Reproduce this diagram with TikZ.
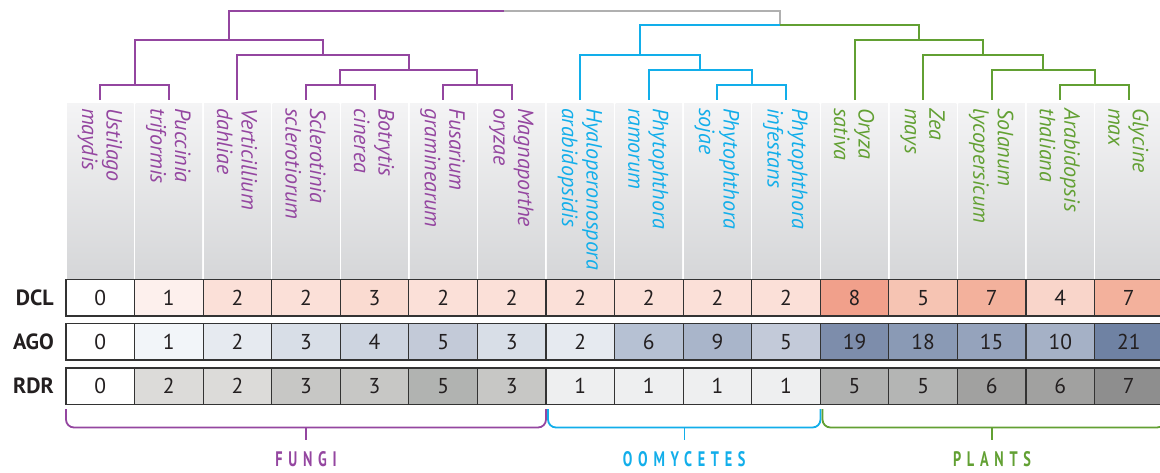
\documentclass[tikz,border=0pt]{standalone}
\usepackage{fontspec}
\usepackage{graphicx}
\setmainfont{PT Sans}
\newfontfamily\grpfont[LetterSpace=40]{PT Sans}
\definecolor{fungi}{HTML}{9446A0}
\definecolor{oomy}{HTML}{12AEEA}
\definecolor{plant}{HTML}{62A033}
\definecolor{rootgray}{HTML}{B0B0B0}
\definecolor{ink}{HTML}{231F20}
\definecolor{cellline}{HTML}{333333}
\definecolor{hdtop}{HTML}{F4F4F5}
\definecolor{hdbot}{HTML}{D5D6D8}
\tikzset{
  branch/.style={line width=2pt},
  leaflabel/.style={rotate=-90, anchor=west, align=left, inner sep=0pt,
    font=\fontsize{22}{24.5}\selectfont\itshape},
  cell/.style={draw=cellline, line width=1.2pt, inner sep=0pt,
    minimum width=68.57pt, minimum height=36.5pt, text=ink,
    font=\fontsize{21.5}{21.5}\selectfont},
  rowlabel/.style={anchor=east, inner sep=0pt, text=ink,
    font=\fontsize{22}{22}\selectfont\bfseries},
  bracket/.style={line width=1.8pt, rounded corners=8pt},
  grplabel/.style={inner sep=0pt, font=\fontsize{21}{21}\selectfont\grpfont\bfseries}
}
\begin{document}
\begin{tikzpicture}[x=1pt,y=-1pt]
\useasboundingbox (0,0) rectangle (1160,472);
% header columns
\foreach \i in {0,...,15}{
  \pgfmathsetmacro{\xa}{66+68.57*\i+1}
  \pgfmathsetmacro{\xb}{66+68.57*(\i+1)-1}
  \shade[top color=hdtop, bottom color=hdbot] (\xa,103) rectangle (\xb,279);
}
% leaves and labels
\foreach \g/\s/\col [count=\i from 0] in {
  Ustilago/maydis/fungi, Puccinia/triformis/fungi, Verticillium/dahliae/fungi,
  Sclerotinia/sclerotiorum/fungi, Botrytis/cinerea/fungi, Fusarium/graminearum/fungi,
  Magnaporthe/oryzae/fungi, Hyaloperonospora/arabidopsidis/oomy,
  Phytophthora/ramorum/oomy, Phytophthora/sojae/oomy, Phytophthora/infestans/oomy,
  Oryza/sativa/plant, Zea/mays/plant, Solanum/lycopersicum/plant,
  Arabidopsis/thaliana/plant, Glycine/max/plant}{
  \pgfmathsetmacro{\cx}{66+68.57*(\i+0.5)}
  \coordinate (leaf\i) at (\cx,100);
  \node[leaflabel, text=\col] (lab\i) at (\cx-0.5,108) {\g\\\s};
}
% tree internal nodes
\coordinate (root) at (504.2,10.7);
\coordinate (F0) at (228.86,40);
\coordinate (FA) at (134.57,85);
\coordinate (FB) at (323.14,55);
\coordinate (FC) at (408.86,70);
\coordinate (FD) at (340.29,85);
\coordinate (FE) at (477.43,85);
\coordinate (R) at (779.56,25);
\coordinate (O0) at (640.28,55);
\coordinate (O1) at (700.28,70);
\coordinate (O2) at (751.71,85);
\coordinate (P0) at (918.85,40);
\coordinate (P1) at (983.13,55);
\coordinate (P2) at (1043.13,70);
\coordinate (P3) at (1094.56,85);
\draw[branch,rootgray] (root) -| (R);
\draw[branch,fungi] (root) -| (F0);
\draw[branch,fungi] (F0) -| (FA);
\draw[branch,fungi] (F0) -| (FB);
\draw[branch,fungi] (FA) -| (leaf0);
\draw[branch,fungi] (FA) -| (leaf1);
\draw[branch,fungi] (FB) -| (leaf2);
\draw[branch,fungi] (FB) -| (FC);
\draw[branch,fungi] (FC) -| (FD);
\draw[branch,fungi] (FC) -| (FE);
\draw[branch,fungi] (FD) -| (leaf3);
\draw[branch,fungi] (FD) -| (leaf4);
\draw[branch,fungi] (FE) -| (leaf5);
\draw[branch,fungi] (FE) -| (leaf6);
\draw[branch,oomy] (R) -| (O0);
\draw[branch,oomy] (O0) -| (leaf7);
\draw[branch,oomy] (O0) -| (O1);
\draw[branch,oomy] (O1) -| (leaf8);
\draw[branch,oomy] (O1) -| (O2);
\draw[branch,oomy] (O2) -| (leaf9);
\draw[branch,oomy] (O2) -| (leaf10);
\draw[branch,plant] (R) -| (P0);
\draw[branch,plant] (P0) -| (leaf11);
\draw[branch,plant] (P0) -| (P1);
\draw[branch,plant] (P1) -| (leaf12);
\draw[branch,plant] (P1) -| (P2);
\draw[branch,plant] (P2) -| (leaf13);
\draw[branch,plant] (P2) -| (P3);
\draw[branch,plant] (P3) -| (leaf14);
\draw[branch,plant] (P3) -| (leaf15);
% table rows
\node[rowlabel] (dcllab) at (54,297.75) {DCL};
\node[rowlabel] (agolab) at (54,341.75) {AGO};
\node[rowlabel] (rdrlab) at (54,386.25) {RDR};
\foreach \v/\c [count=\i from 0] in {0/FFFFFF,1/FDF0ED,2/FBE0D8,2/FBE0D8,3/FADBD1,2/FBE0D8,2/FBE0D8,
  2/FBE0D8,2/FBE0D8,2/FBE0D8,2/FBE0D8,8/F1A08B,5/F6C4B3,7/F3B19C,4/F9D5CA,7/F3B19C}{
  \pgfmathsetmacro{\cx}{66+68.57*(\i+0.5)}
  \definecolor{tmpc}{HTML}{\c}
  \node[cell, fill=tmpc] (dcl\i) at (\cx,297.75) {\v};
}
\foreach \v/\c [count=\i from 0] in {0/FFFFFF,1/F2F5F9,2/E6EAF0,3/D8DEE7,4/CDD4E0,5/C3CAD8,3/D8DEE7,
  2/E6EAF0,6/B6C1D3,9/A9B5CA,5/C3CAD9,19/7D8DAB,18/8A9AB5,15/95A3BC,10/A5B1C6,21/6F82A3}{
  \pgfmathsetmacro{\cx}{66+68.57*(\i+0.5)}
  \definecolor{tmpc}{HTML}{\c}
  \node[cell, fill=tmpc] (ago\i) at (\cx,341.75) {\v};
}
\foreach \v/\c [count=\i from 0] in {0/FFFFFF,2/DCDBD9,2/DCDBD9,3/C7C7C5,3/C7C7C5,5/B1B3B1,3/C7C7C5,
  1/EEEFF0,1/EEEFF0,1/EEEFF0,1/EEEFF0,5/B0B1B0,5/B4B5B4,6/A1A1A0,6/A1A1A0,7/8E8E8E}{
  \pgfmathsetmacro{\cx}{66+68.57*(\i+0.5)}
  \definecolor{tmpc}{HTML}{\c}
  \node[cell, fill=tmpc] (rdr\i) at (\cx,386.25) {\v};
}
% brackets
\draw[bracket,fungi] (66,409) -- (66,427.5) -- (546,427.5) -- (546,409);
\draw[bracket,oomy] (548,409) -- (548,427.5) -- (820.5,427.5) -- (820.5,409);
\draw[bracket,plant] (822.5,409) -- (822.5,427.5) -- (1165,427.5) -- (1165,409);
\coordinate (ft) at (306,427.5); \coordinate (fb) at (306,440);
\coordinate (ot) at (684.25,427.5); \coordinate (ob) at (684.25,440);
\coordinate (pt) at (992,427.5); \coordinate (pb) at (992,440);
\draw[line width=1.5pt,fungi] (ft) -- (fb);
\draw[line width=1.5pt,oomy] (ot) -- (ob);
\draw[line width=1.5pt,plant] (pt) -- (pb);
\node[grplabel,text=fungi] (fungilab) at (306,459.5) {\scalebox{0.68}[1]{FUNGI}};
\node[grplabel,text=oomy] (oomylab) at (684.25,459.5) {\scalebox{0.68}[1]{OOMYCETES}};
\node[grplabel,text=plant] (plantlab) at (992,459.5) {\scalebox{0.68}[1]{PLANTS}};
\end{tikzpicture}
\end{document}
